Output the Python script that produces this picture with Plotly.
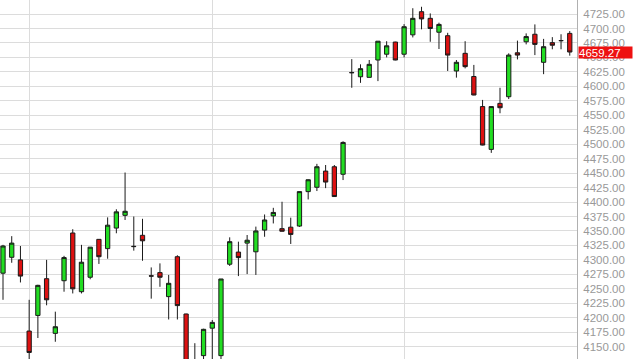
import plotly.graph_objects as go

# Daily candles, left to right
day_index = list(range(66))
open_ = [4277, 4304.5, 4300, 4177, 4204, 4267.5, 4173, 4264, 4346.5, 4245,
         4270, 4335.5, 4319.5, 4355, 4377, 4323.5, 4342.5, 4272.5, 4278, 4236.5,
         4305.5, 4206.5, 4095, 4134.5, 4182, 4134.5, 4292.5, 4313.5, 4329, 4314,
         4351.5, 4376, 4354, 4356.5, 4358.5, 4418, 4425.5, 4453.5, 4461, 4448,
         4624, 4616.5, 4615.5, 4645.5, 4655.5, 4676.5, 4655.5, 4689, 4729, 4717.5,
         4693.5, 4687.5, 4626.5, 4657, 4617, 4565, 4491, 4570.5, 4582, 4658,
         4677, 4690, 4641.5, 4675.5, 4679, 4691.5]
high = [4326, 4341, 4324, 4231, 4257, 4300, 4210.5, 4307, 4353, 4326,
        4322, 4336, 4373.5, 4387.5, 4451, 4375, 4371, 4287, 4294, 4274,
        4308, 4207, 4156, 4181, 4196, 4267, 4339, 4331.5, 4343, 4357.5,
        4378.5, 4390, 4400.5, 4373, 4418, 4439, 4466, 4464, 4464, 4505,
        4647, 4638, 4645.5, 4678, 4678, 4677, 4707.5, 4735, 4737.5, 4726,
        4710, 4692.5, 4645.5, 4678, 4637, 4576.5, 4565, 4597.5, 4657, 4679,
        4691.5, 4707, 4682, 4685, 4690, 4695.5]
low = [4231, 4295, 4261, 4120, 4165, 4221.5, 4158.5, 4245, 4242, 4242,
       4266.5, 4293, 4302, 4346, 4369, 4316, 4298.5, 4233, 4253.5, 4197,
       4197, 4085, 4080, 4120, 4115, 4126, 4289.5, 4272, 4275.5, 4274,
       4340, 4363, 4349, 4327.5, 4357, 4404.5, 4419, 4424, 4409, 4438,
       4597.5, 4606, 4615.5, 4609, 4650, 4645, 4650, 4684.5, 4698.5, 4677,
       4664.5, 4626.5, 4615, 4631, 4584.5, 4498, 4485, 4553.5, 4578, 4646.5,
       4672.5, 4654, 4621, 4664, 4664, 4653]
close = [4324, 4329, 4272, 4140, 4256, 4231, 4184.5, 4304, 4250, 4296,
         4322, 4305.5, 4360, 4383, 4384, 4323, 4333, 4272, 4270, 4259.5,
         4221, 4095, 4115, 4180, 4192, 4267, 4331.5, 4304, 4334, 4350,
         4369, 4382, 4349.5, 4344, 4418, 4438.5, 4461, 4434.5, 4409.5, 4503,
         4623.5, 4630.5, 4638, 4678, 4670, 4645.5, 4703, 4717.5, 4716.5, 4700,
         4707, 4654, 4641.5, 4634, 4585, 4498.5, 4565, 4563, 4654, 4654,
         4686, 4672.5, 4668.5, 4671, 4679, 4659.27]

# Right axis ticks
tick_values = [4150 + 25 * k for k in range(24)]
tick_labels = [f"{v:.2f}" for v in tick_values]
month_breaks = [3, 24, 46]
last_price = close[-1]

fig = go.Figure()
fig.add_trace(go.Candlestick(
    x=day_index, open=open_, high=high, low=low, close=close,
    increasing=dict(fillcolor="#22dd22", line=dict(color="#1a1a1a", width=1)),
    decreasing=dict(fillcolor="#dd1111", line=dict(color="#1a1a1a", width=1)),
    whiskerwidth=0, hoverinfo="skip", showlegend=False,
))

fig.add_annotation(
    xref="paper", yref="y", x=1, y=last_price, xanchor="left", yanchor="middle",
    xshift=1, text=f"{last_price:.2f}", showarrow=False,
    bgcolor="#ee1111", font=dict(color="white", size=11.5, family="Liberation Sans"),
    width=53, height=11, align="left", borderpad=0,
)

fig.update_layout(
    width=634, height=359,
    margin=dict(l=0, r=57, t=0, b=0),
    paper_bgcolor="white", plot_bgcolor="white",
    xaxis=dict(range=[-0.344, 65.83], rangeslider=dict(visible=False),
               tickvals=month_breaks, showticklabels=False, ticks="",
               showgrid=True, gridcolor="#dcdcdc", gridwidth=1, zeroline=False,
               showline=False, fixedrange=True),
    yaxis=dict(side="right", range=[4128.7, 4749.2], tickvals=tick_values,
               ticktext=tick_labels, ticks="", showgrid=True, gridcolor="#dcdcdc",
               gridwidth=1, zeroline=False, showline=True, linecolor="#b0b0b0",
               linewidth=1, tickfont=dict(color="#999999", size=11.5, family="Liberation Sans"),
               ticklabelstandoff=3, fixedrange=True),
    boxgap=0.3,
)

fig.write_html("out.html", config={"displayModeBar": False})
